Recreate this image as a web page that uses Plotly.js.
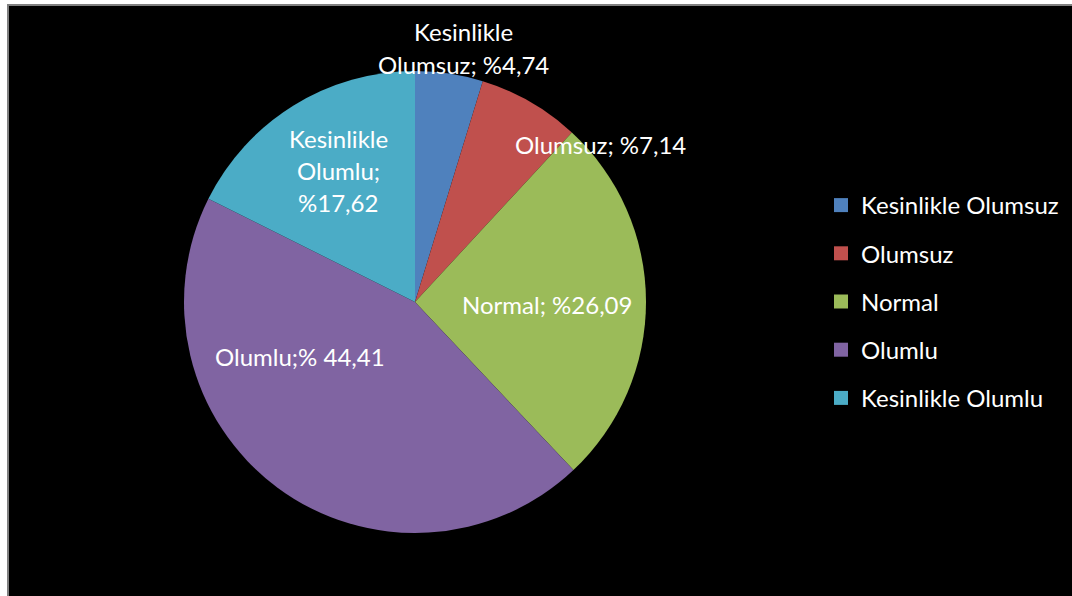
<!DOCTYPE html>
<html>
<head>
<meta charset="utf-8">
<script src="https://cdn.plot.ly/plotly-3.0.1.min.js"></script>
<style>
  html, body { margin: 0; padding: 0; background: #ffffff; overflow: hidden; }
  #frame { position: absolute; left: 7px; top: 4px; width: 1065px; height: 592px;
           background: #000; border-left: 2px solid #808080; border-top: 2px solid #808080; }
  #chart { width: 1063px; height: 590px; }
</style>
</head>
<body>
<div id="frame"><div id="chart"></div></div>
<script>
// ---- data ----
var categories = ["Kesinlikle Olumsuz", "Olumsuz", "Normal", "Olumlu", "Kesinlikle Olumlu"];
var percentages = [4.74, 7.14, 26.09, 44.41, 17.62];
var colors = ["#4F81BD", "#C0504D", "#9BBB59", "#8064A2", "#4BACC6"];
// data label texts as shown (lines)
var labelLines = [
  ["Kesinlikle", "Olumsuz; %4,74"],
  ["Olumsuz; %7,14"],
  ["Normal; %26,09"],
  ["Olumlu;% 44,41"],
  ["Kesinlikle", "Olumlu;", "%17,62"]
];

// ---- layout helpers (page pixel positions) ----
var W = 1063, H = 590, OX = 9, OY = 6;
function px(x) { return (x - OX) / W; }
function py(y) { return 1 - (y - OY) / H; }
var cx = 415, cy = 302, r = 231;
var labelCenters = [[463, 32], [600, 144], [547, 304], [300, 356], [338, 138]];
var lineGap = 32;
var font = "Lato, 'Open Sans', sans-serif";
var fsize = 24;

var annotations = [];
labelLines.forEach(function (lines, i) {
  lines.forEach(function (t, j) {
    annotations.push({
      text: t, xref: "paper", yref: "paper",
      x: px(labelCenters[i][0]), y: py(labelCenters[i][1] + j * lineGap),
      xanchor: "center", yanchor: "middle", showarrow: false,
      font: { family: font, size: fsize, color: "#ffffff" }
    });
  });
});

var traces = [{
  type: "pie",
  labels: categories,
  values: percentages,
  sort: false,
  direction: "clockwise",
  rotation: 0,
  textinfo: "none",
  hoverinfo: "label+percent",
  showlegend: false,
  marker: { colors: colors, line: { width: 0 } },
  domain: { x: [px(cx - r), px(cx + r)], y: [py(cy + r), py(cy - r)] }
}];
categories.forEach(function (c, i) {
  traces.push({
    type: "scatter", mode: "markers", x: [null], y: [null], name: c,
    legendgroup: "g" + i, showlegend: true,
    marker: { symbol: "square", size: 14, color: colors[i] }
  });
});

var layout = {
  width: W, height: H,
  margin: { l: 0, r: 0, t: 0, b: 0 },
  paper_bgcolor: "#000000", plot_bgcolor: "#000000",
  xaxis: { visible: false }, yaxis: { visible: false },
  showlegend: true,
  legend: {
    x: px(821), y: py(183), xanchor: "left", yanchor: "top",
    font: { family: font, size: fsize, color: "#ffffff" },
    tracegroupgap: 14, bgcolor: "rgba(0,0,0,0)", itemclick: false
  },
  annotations: annotations
};

Plotly.newPlot("chart", traces, layout, { displayModeBar: false, staticPlot: true });
</script>
</body>
</html>
